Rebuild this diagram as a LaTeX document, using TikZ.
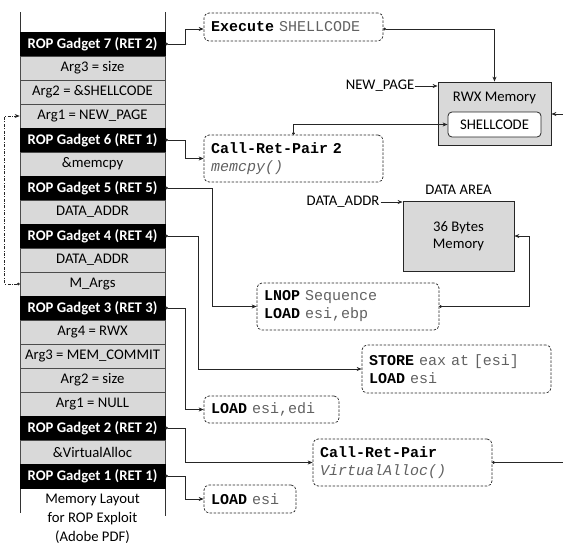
\documentclass[tikz,border=0pt]{standalone}
\usepackage{fontspec}
\setmainfont{Carlito}
\newfontfamily\monof{Liberation Mono}
\usetikzlibrary{arrows.meta}
\newcommand\kwd[1]{\textcolor{black}{\textbf{#1}}}
\begin{document}
\begin{tikzpicture}[x=1pt,y=-1pt,
  cell/.style={draw=black!70, fill=black!15, minimum width=145pt, minimum height=24pt, inner sep=0pt,
    font=\fontsize{14.7}{17}\selectfont, line width=0.6pt},
  gad/.style={cell, draw=black, fill=black, text=white, font=\fontsize{14.7}{17}\selectfont\bfseries},
  code/.style={draw=black!85, line width=0.7pt, dash pattern=on 2.5pt off 1.5pt, rounded corners=5pt,
    align=left, inner xsep=7pt, inner ysep=2pt, text=black!62,
    font=\monof\fontsize{15}{18}\selectfont},
  mem/.style={draw=black!85, fill=black!15, line width=0.8pt, inner sep=0pt},
  lab/.style={font=\fontsize{14.7}{17}\selectfont, inner sep=1pt},
  conn/.style={draw=black!85, line width=0.7pt, {Circle[length=2.6pt]}-{Stealth[length=5pt,width=4pt]}},
  plain/.style={draw=black!85, line width=0.7pt, -{Stealth[length=5pt,width=4pt]}}
]
\useasboundingbox (0,0) rectangle (563,544);
% stack outline
\draw[black!80, line width=0.7pt] (20,12) -- (20,513) (165,12) -- (165,516);
\node[gad]  (g7)  at (92.5,44)  {ROP Gadget 7 (RET 2)};
\node[cell] (c1)  at (92.5,68)  {Arg3 = size};
\node[cell] (c2)  at (92.5,92)  {Arg2 = \&SHELLCODE};
\node[cell] (c3)  at (92.5,116) {Arg1 = NEW\_PAGE};
\node[gad]  (g6)  at (92.5,140) {ROP Gadget 6 (RET 1)};
\node[cell] (c5)  at (92.5,164) {\&memcpy};
\node[gad]  (g5)  at (92.5,188) {ROP Gadget 5 (RET 5)};
\node[cell] (c7)  at (92.5,212) {DATA\_ADDR};
\node[gad]  (g4)  at (92.5,236) {ROP Gadget 4 (RET 4)};
\node[cell] (c9)  at (92.5,260) {DATA\_ADDR};
\node[cell] (c10) at (92.5,284) {M\_Args};
\node[gad]  (g3)  at (92.5,308) {ROP Gadget 3 (RET 3)};
\node[cell] (c12) at (92.5,332) {Arg4 = RWX};
\node[cell] (c13) at (92.5,356) {Arg3 = MEM\_COMMIT};
\node[cell] (c14) at (92.5,380) {Arg2 = size};
\node[cell] (c15) at (92.5,404) {Arg1 = NULL};
\node[gad]  (g2)  at (92.5,428) {ROP Gadget 2 (RET 2)};
\node[cell] (c17) at (92.5,452) {\&VirtualAlloc};
\node[gad]  (g1)  at (92.5,476) {ROP Gadget 1 (RET 1)};
\node[lab, align=center, font=\fontsize{14.7}{19}\selectfont] (cap) at (92.5,518.5) {Memory Layout\\for ROP Exploit\\(Adobe PDF)};

% code boxes
\node[code, text width=165pt, minimum height=28pt] (exec) at (293.5,27) {\kwd{Execute} SHELLCODE};
\node[code, text width=165pt, minimum height=47pt] (crp2) at (293.5,158.5) {\kwd{Call-Ret-Pair 2}\\\textit{memcpy()}};
\node[code, text width=168pt, minimum height=47pt] (lnop) at (348,306.5) {\kwd{LNOP} Sequence\\\kwd{LOAD} esi,ebp};
\node[code, text width=175pt, minimum height=48pt] (store) at (456.5,369) {\kwd{STORE} eax at [esi]\\\kwd{LOAD} esi};
\node[code, text width=121pt, minimum height=27pt] (ledi) at (271.5,409.5) {\kwd{LOAD} esi,edi};
\node[code, text width=165pt, minimum height=47pt] (crp) at (402.5,462.5) {\kwd{Call-Ret-Pair}\\\textit{VirtualAlloc()}};
\node[code, text width=78pt, minimum height=28pt] (lesi) at (250,499) {\kwd{LOAD} esi};

% memory boxes
\node[mem, minimum width=113pt, minimum height=63pt] (rwx) at (494.5,113.5) {};
\node[lab] (rwxl) at (494.5,98) {RWX Memory};
\node[draw=black!85, fill=white, line width=0.8pt, rounded corners=4pt, minimum width=93pt, minimum height=25pt, inner sep=0pt,
  font=\fontsize{14.7}{17}\selectfont] (shell) at (494.5,124.5) {SHELLCODE};
\node[mem, minimum width=111pt, minimum height=70pt, align=center, font=\fontsize{14.7}{17.5}\selectfont] (data) at (458.5,236) {36 Bytes\\Memory};
\node[lab] (darea) at (458.5,190) {DATA AREA};
\node[lab] (newp) at (380,86) {NEW\_PAGE};
\node[lab] (daddr) at (343,202) {DATA\_ADDR};
\coordinate (rin) at (563,114);
\coordinate (rout) at (563,462.5);

% connectors
\draw[conn] (g7.east) -- ++(20,0) |- ([yshift=-2pt]exec.west);
\draw[conn] (g6.east) -- ++(20,0) |- (crp2.west);
\draw[conn] (g5.east) -- ++(47,0) |- (lnop.west);
\draw[conn] (g4.east) -- ++(33,0) |- (store.west);
\draw[conn] (g3.east) -- ++(20,0) |- (ledi.west);
\draw[conn] (g2.east) -- ++(20,0) |- (crp.west);
\draw[conn] (g1.east) -- ++(20,0) |- (lesi.west);
\draw[conn] ([yshift=-2pt]exec.east) -| (rwx.north);
\draw[conn] (crp2.north) |- (shell.west);
\draw[conn] (lnop.east) -- ++(90,0) |- (data.east);
\draw[plain] (newp.east) -- (newp.east -| rwx.west);
\draw[plain] (daddr.east) -- (daddr.east -| data.west);
\draw[plain] (rin) -- (rin -| rwx.east);
\draw[draw=black!85, line width=0.7pt, {Circle[length=2.6pt]}-] (crp.east) -- (rout);
\draw[conn, dash pattern=on 3pt off 1.5pt on 0.8pt off 1.5pt] (c10.west) -- ++(-15,0) |- (c3.west);
\end{tikzpicture}
\end{document}
